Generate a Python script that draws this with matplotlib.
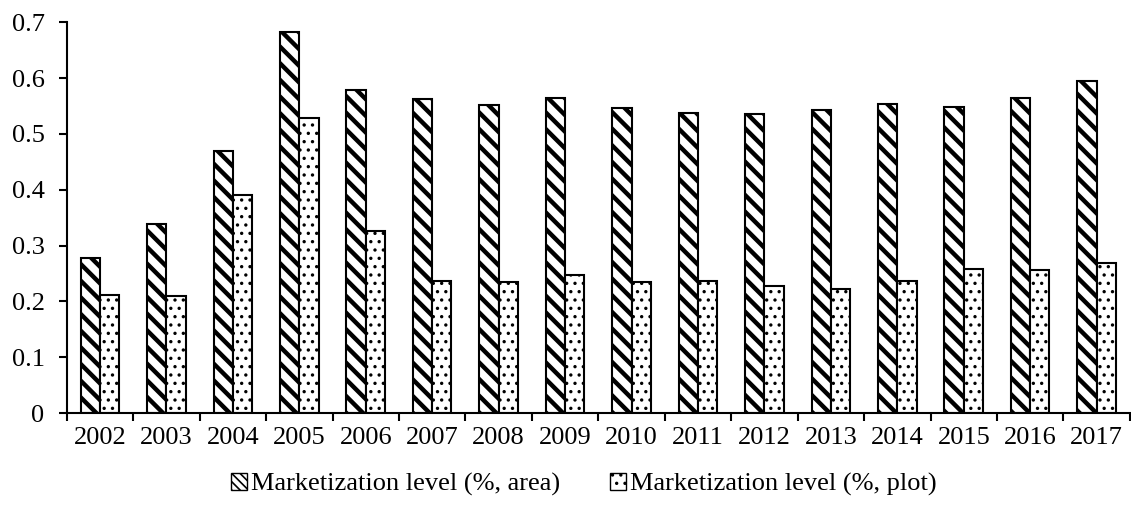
import numpy as np
import matplotlib
matplotlib.use("Agg")
import matplotlib.pyplot as plt
from matplotlib.patches import Patch

plt.rcParams['font.family'] = ['Liberation Serif', 'DejaVu Serif']

years = ['2002', '2003', '2004', '2005', '2006', '2007', '2008', '2009',
         '2010', '2011', '2012', '2013', '2014', '2015', '2016', '2017']
area_level = [0.277, 0.338, 0.469, 0.683, 0.579, 0.562, 0.551, 0.564,
              0.547, 0.537, 0.536, 0.543, 0.553, 0.549, 0.564, 0.594]
plot_level = [0.212, 0.209, 0.390, 0.528, 0.326, 0.236, 0.235, 0.247,
              0.235, 0.236, 0.228, 0.222, 0.237, 0.258, 0.256, 0.268]
y_ticks = [0, 0.1, 0.2, 0.3, 0.4, 0.5, 0.6, 0.7]
y_labels = ['0', '0.1', '0.2', '0.3', '0.4', '0.5', '0.6', '0.7']


def set_hlw(patches, lw):
    for p in patches:
        if hasattr(p, 'set_hatch_linewidth'):
            p.set_hatch_linewidth(lw)


fig = plt.figure(figsize=(11.31, 5.05), dpi=100)
ax = fig.add_axes([0.059, 0.182, 0.94, 0.774])

x = np.arange(len(years))
w = 0.29

plt.rcParams['hatch.linewidth'] = 3.2
b1 = ax.bar(x - w / 2, area_level, w, color='white', edgecolor='black',
            hatch='\\\\', linewidth=1.5)
set_hlw(b1, 3.2)
plt.rcParams['hatch.linewidth'] = 1.2
b2 = ax.bar(x + w / 2, plot_level, w, color='white', edgecolor='black',
            hatch='..', linewidth=1.5)
set_hlw(b2, 1.2)

ax.set_xlim(-0.5, len(years) - 0.5)
ax.set_ylim(0, 0.7)
ax.set_yticks(y_ticks)
ax.set_yticklabels(y_labels, fontsize=19)
ax.set_xticks(x)
ax.set_xticklabels(years, fontsize=19)
ax.tick_params(axis='x', which='major', length=0, pad=10)
ax.set_xticks(np.arange(len(years) + 1) - 0.5, minor=True)
ax.tick_params(axis='x', which='minor', length=6, width=1.5)
ax.tick_params(axis='y', length=6, width=1.5, pad=10)

for s in ['top', 'right']:
    ax.spines[s].set_visible(False)
for s in ['left', 'bottom']:
    ax.spines[s].set_linewidth(1.5)

# legend under the plot
plt.rcParams['hatch.linewidth'] = 2.5
h1 = Patch(facecolor='white', edgecolor='black', hatch='\\\\\\\\', label='Marketization level (%, area)')
set_hlw([h1], 2.5)
plt.rcParams['hatch.linewidth'] = 1.2
h2 = Patch(facecolor='white', edgecolor='black', hatch='..', label='Marketization level (%, plot)')
set_hlw([h2], 1.2)
fig.legend(handles=[h1, h2], loc='center', bbox_to_anchor=(0.516, 0.04), ncol=2,
           frameon=False, fontsize=19, handlelength=0.6, handleheight=0.6,
           handletextpad=0.15, columnspacing=1.9)

fig.savefig('out.png', dpi=100)
